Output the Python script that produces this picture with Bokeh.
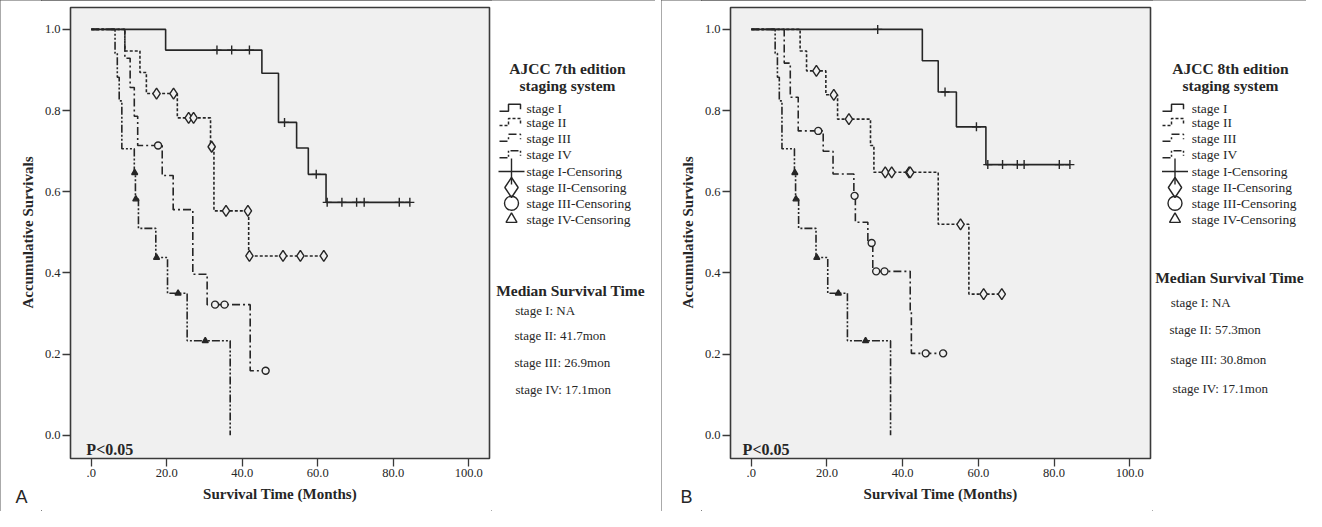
import numpy as np
from bokeh.plotting import figure
from bokeh.layouts import row
from bokeh.models import Range1d, FixedTicker, Label
from bokeh.embed import file_html
from bokeh.resources import INLINE
from bokeh.core.properties import value

SERIF = "Liberation Serif"
SANS = "Liberation Sans"
INK = "#262626"
BG = "#f0f0f0"

# ---------------- data ----------------
x_ticks = [0, 20, 40, 60, 80, 100]
x_tick_labels = [".0", "20.0", "40.0", "60.0", "80.0", "100.0"]
y_ticks = [0.0, 0.2, 0.4, 0.6, 0.8, 1.0]
y_tick_labels = ["0.0", "0.2", "0.4", "0.6", "0.8", "1.0"]

stage_names = ["stage I", "stage II", "stage III", "stage IV"]
censor_names = ["stage I-Censoring", "stage II-Censoring", "stage III-Censoring", "stage IV-Censoring"]

# Panel A: AJCC 7th edition  (event times in months, survival after each step, censoring times)
A_I_t = [0, 19.7, 45.2, 49.6, 54.4, 57.5, 62.2]
A_I_s = [1.0, 0.949, 0.892, 0.771, 0.708, 0.643, 0.574]
A_I_c = [33.3, 37.2, 41.9, 51.2, 59.6, 62.5, 66.4, 70.3, 72.3, 81.6, 84.4]

A_II_t = [0, 8.9, 12.9, 14.6, 22.8, 31.6, 32.5, 41.7]
A_II_s = [1.0, 0.947, 0.894, 0.842, 0.782, 0.711, 0.553, 0.442]
A_II_c = [17.3, 21.8, 25.8, 27.1, 31.9, 35.7, 41.5, 41.9, 50.8, 55.4, 61.6]

A_III_t = [0, 8.9, 10.3, 11.4, 12.3, 18.8, 21.7, 26.9, 30.7, 42.1]
A_III_s = [1.0, 0.929, 0.857, 0.786, 0.714, 0.640, 0.556, 0.397, 0.322, 0.159]
A_III_c = [17.7, 32.8, 35.3, 46.2]

A_IV_t = [0, 6.3, 6.9, 7.4, 8.1, 11.4, 11.7, 12.5, 17.1, 20.2, 25.4, 36.8]
A_IV_s = [1.0, 0.941, 0.882, 0.824, 0.706, 0.647, 0.582, 0.510, 0.438, 0.350, 0.233, 0.0]
A_IV_c = [11.5, 11.8, 17.3, 23.0, 30.2]

A_median = ["stage I: NA", "stage II: 41.7mon", "stage III: 26.9mon", "stage IV: 17.1mon"]

# Panel B: AJCC 8th edition
B_I_t = [0, 45.2, 49.4, 54.2, 62.0]
B_I_s = [1.0, 0.923, 0.846, 0.760, 0.667]
B_I_c = [33.4, 51.2, 59.5, 62.5, 66.4, 70.3, 72.1, 81.4, 84.2]

B_II_t = [0, 12.9, 14.6, 19.7, 22.8, 31.5, 32.4, 49.4, 57.5]
B_II_s = [1.0, 0.947, 0.898, 0.839, 0.779, 0.714, 0.648, 0.520, 0.348]
B_II_c = [17.2, 21.8, 25.8, 35.4, 37.1, 41.7, 42.0, 55.3, 61.4, 66.2]

B_III_t = [0, 8.7, 10.3, 12.4, 19.0, 21.6, 27.1, 27.5, 30.8, 32.1, 42.0, 42.3]
B_III_s = [1.0, 0.917, 0.833, 0.750, 0.700, 0.644, 0.590, 0.525, 0.474, 0.404, 0.303, 0.202]
B_III_c = [17.7, 27.3, 31.8, 33.0, 35.2, 46.1, 50.7]

B_IV_t = [0, 6.3, 6.9, 7.4, 8.1, 11.4, 11.7, 12.5, 17.1, 20.2, 25.4, 36.8]
B_IV_s = [1.0, 0.941, 0.882, 0.824, 0.706, 0.647, 0.582, 0.510, 0.438, 0.350, 0.233, 0.0]
B_IV_c = [11.5, 11.8, 17.3, 23.0, 30.2]

B_median = ["stage I: NA", "stage II: 57.3mon", "stage III: 30.8mon", "stage IV: 17.1mon"]

# ---------------- styles ----------------
DASHES = ["solid", "3 2", "8 3 2 3", "8 2 2 2 2 2"]
MARKERS = [("cross", 9, None), ("diamond", 11, BG), ("circle", 7, BG), ("triangle", 6, INK)]
H = 511


def lookup(t, s, ct):
    idx = np.searchsorted(np.asarray(t), np.asarray(ct), side="right") - 1
    return list(np.asarray(s)[idx])


def blank_figure(width):
    f = figure(width=width, height=H, x_range=Range1d(0, width), y_range=Range1d(H, 0),
               output_backend="svg", toolbar_location=None, frame_align=False,
               min_border_left=0, min_border_right=0, min_border_top=0, min_border_bottom=0,
               x_axis_location=None, y_axis_location=None)
    f.grid.visible = False
    f.outline_line_color = None
    f.background_fill_color = "white"
    f.border_fill_color = "white"
    return f


def strip_figure(width, letter, label_cx, letter_x):
    f = blank_figure(width)
    f.text(x=[label_cx], y=[232], text=["Accumulative Survivals"], angle=np.pi / 2,
           text_font=value(SERIF), text_font_style="bold", text_font_size="15px",
           text_align="center", text_baseline="middle", text_color=INK)
    f.text(x=[letter_x], y=[496], text=[letter], text_font=value(SANS), text_font_size="18px",
           text_align="left", text_baseline="alphabetic", text_color=INK)
    return f


def km_figure(curves, width, p_x):
    p = figure(width=width, height=H, x_range=Range1d(-5.5, 105.5), y_range=Range1d(-0.057, 1.054),
               output_backend="svg", toolbar_location=None, frame_align=False,
               min_border_left=26, min_border_right=2, min_border_top=7, min_border_bottom=53)
    p.background_fill_color = BG
    p.border_fill_color = "white"
    p.outline_line_color = "#3a3a3a"
    p.outline_line_width = 1.6
    p.grid.visible = False

    p.xaxis.ticker = FixedTicker(ticks=x_ticks)
    p.xaxis.major_label_overrides = dict(zip(x_ticks, x_tick_labels))
    p.yaxis.ticker = FixedTicker(ticks=y_ticks)
    p.yaxis.major_label_overrides = dict(zip(y_ticks, y_tick_labels))
    for ax in (p.xaxis, p.yaxis):
        ax.axis_line_color = None
        ax.major_tick_line_color = "#3a3a3a"
        ax.major_tick_line_width = 1.3
        ax.major_tick_out = 8
        ax.major_tick_in = 0
        ax.minor_tick_line_color = None
        ax.major_label_text_font = SERIF
        ax.major_label_text_font_size = "12.5px"
        ax.major_label_text_color = INK
        ax.axis_label_text_font = SERIF
        ax.axis_label_text_font_style = "bold"
        ax.axis_label_text_font_size = "15px"
        ax.axis_label_text_color = INK
    p.xaxis.axis_label = "Survival Time (Months)"
    p.xaxis.major_label_standoff = 2
    p.yaxis.major_label_standoff = 2
    p.xaxis.axis_label_standoff = 6

    for k, (t, s, c) in enumerate(curves):
        end = max(c[-1], t[-1]) if c else t[-1]
        tx = list(t) + ([end] if end > t[-1] else [])
        sx = list(s) + ([s[-1]] if end > t[-1] else [])
        p.step(x=tx, y=sx, mode="after", line_color=INK, line_width=1.6, line_dash=DASHES[k])
    for k, (t, s, c) in enumerate(curves):
        m, size, fill = MARKERS[k]
        p.scatter(x=c, y=lookup(t, s, c), marker=m, size=size, line_color=INK, line_width=1.4,
                  fill_color=fill)

    p.add_layout(Label(x=p_x, y=-0.036, text="P<0.05", text_font=SERIF, text_font_style="bold",
                       text_font_size="16px", text_color=INK, text_baseline="alphabetic"))
    return p


def legend_figure(width, title, median, text_x, sample_x0, sym_x, title_cx, med_cx, med_y0, med_x, med_y):
    f = blank_figure(width)
    rows_y = [107.7, 122.0, 137.7, 154.3, 171.0, 187.0, 202.7, 218.7]
    f.text(x=[title_cx, title_cx], y=[68, 84.7], text=title, text_font=value(SERIF),
           text_font_style="bold", text_font_size="15.5px", text_align="center",
           text_baseline="middle", text_color=INK)
    f.text(x=[text_x] * 8, y=rows_y, text=stage_names + censor_names, text_font=value(SERIF),
           text_font_size="13.5px", text_align="left", text_baseline="middle", text_color=INK)
    for k in range(4):
        y = rows_y[k]
        x0 = sample_x0
        f.line(x=[x0, x0 + 9, x0 + 9, x0 + 21, x0 + 21], y=[y + 3, y + 3, y - 4, y - 4, y + 1],
               line_color=INK, line_width=1.5, line_dash=DASHES[k])
    sizes = [26, 20, 14, 11]
    for k in range(4):
        m = MARKERS[k][0]
        f.scatter(x=[sym_x], y=[rows_y[4 + k]], marker=m, size=sizes[k], line_color=INK,
                  line_width=1.4, fill_color=None)

    f.text(x=[med_cx], y=[med_y0], text=["Median Survival Time"], text_font=value(SERIF),
           text_font_style="bold", text_font_size="15.5px", text_align="center",
           text_baseline="middle", text_color=INK)
    f.text(x=med_x, y=med_y, text=median, text_font=value(SERIF), text_font_size="13px",
           text_align="left", text_baseline="middle", text_color=INK)
    return f


curves_A = [(A_I_t, A_I_s, A_I_c), (A_II_t, A_II_s, A_II_c), (A_III_t, A_III_s, A_III_c),
            (A_IV_t, A_IV_s, A_IV_c)]
curves_B = [(B_I_t, B_I_s, B_I_c), (B_II_t, B_II_s, B_II_c), (B_III_t, B_III_s, B_III_c),
            (B_IV_t, B_IV_s, B_IV_c)]

sA = strip_figure(41, "A", 27, 15)
pA = km_figure(curves_A, 450, -1.3)
lA = legend_figure(164, ["AJCC 7th edition", "staging system"], A_median,
                   text_x=35, sample_x0=8, sym_x=20, title_cx=76, med_cx=79, med_y0=290,
                   med_x=[23.7, 23, 23, 24], med_y=[310.3, 334.7, 362, 388.7])
sB = strip_figure(40, "B", 26, 19)
pB = km_figure(curves_B, 451, -2.3)
lB = legend_figure(154, ["AJCC 8th edition", "staging system"], B_median,
                   text_x=39.3, sample_x0=10, sym_x=22.5, title_cx=78, med_cx=77, med_y0=277,
                   med_x=[18.3, 17, 18, 20], med_y=[302, 328.7, 358.7, 388])

box = {"outline": "1.5px solid #555", "outline-offset": "-1px"}
panelA = row(sA, pA, lA, styles=box)
panelB = row(sB, pB, lB, styles=box)
layout = row(panelA, panelB, spacing=6)

open("out.html", "w").write(file_html(layout, INLINE))
